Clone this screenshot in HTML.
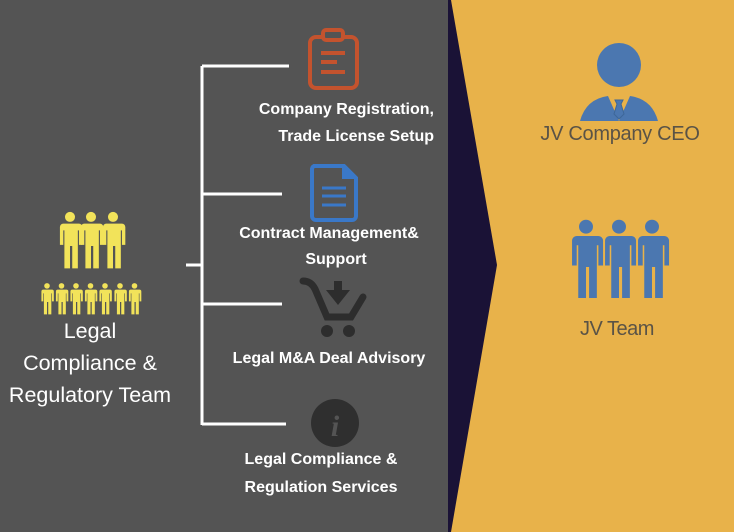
<!DOCTYPE html>
<html><head><meta charset="utf-8"><style>
html,body{margin:0;padding:0;width:734px;height:532px;overflow:hidden}
body{background:#545454;font-family:"Liberation Sans",sans-serif}
svg{display:block}
</style></head><body>
<svg width="734" height="532" viewBox="0 0 734 532" xmlns="http://www.w3.org/2000/svg">
<defs>
<g id="man">
<circle cx="0" cy="-26" r="4.5"/>
<path d="M-8,-20 h16 a3,3 0 0 1 3,3 v16 h-3 v-13 h-1 v34 h-5 v-20 h-2 v20 h-5 v-34 h-1 v13 h-3 v-16 a3,3 0 0 1 3,-3z"/>
</g>
</defs>
<rect x="0" y="0" width="734" height="532" fill="#545454"/>
<rect x="448" y="0" width="286" height="532" fill="#E8B24A"/>
<polygon points="448,0 451,0 497,265 451,532 448,532" fill="#1a1236"/>

<g stroke="#ffffff" stroke-width="3" fill="none">
<line x1="202" y1="66" x2="202" y2="425"/>
<line x1="202" y1="66" x2="289" y2="66"/>
<line x1="202" y1="194" x2="282" y2="194"/>
<line x1="202" y1="304" x2="282" y2="304"/>
<line x1="202" y1="424" x2="286" y2="424"/>
<line x1="186" y1="265" x2="202" y2="265"/>
</g>

<g stroke="#c4532e" stroke-width="4" fill="none">
<rect x="310" y="37" width="47" height="51" rx="6"/>
<rect x="323" y="30" width="20" height="10" rx="3" fill="#545454"/>
<line x1="321" y1="53" x2="345" y2="53"/>
<line x1="321" y1="62" x2="337" y2="62"/>
<line x1="321" y1="72" x2="345" y2="72"/>
</g>
<g>
<path d="M314,166 h30 l12,12 v38 a4,4 0 0 1 -4,4 h-36 a4,4 0 0 1 -4,-4 v-46 a4,4 0 0 1 2,-4z" fill="none" stroke="#3a78c8" stroke-width="4"/>
<path d="M342,164 l15,15 h-15z" fill="#3a78c8"/>
<g stroke="#3a78c8" stroke-width="3"><line x1="322" y1="188" x2="346" y2="188"/><line x1="322" y1="196" x2="346" y2="196"/><line x1="322" y1="205" x2="346" y2="205"/></g>
</g>
<g fill="#2d2d2d" stroke="#2d2d2d">
<path d="M303,281 q8,0 12,8 l12,28 h24 l12,-20" fill="none" stroke-width="7" stroke-linecap="round"/>
<rect x="334" y="281" width="8" height="10" stroke="none"/>
<polygon points="326,290 350,290 338,305" stroke="none"/>
<circle cx="327" cy="331" r="6" stroke="none"/>
<circle cx="349" cy="331" r="6" stroke="none"/>
</g>
<circle cx="335" cy="423" r="24" fill="#2f2f2f"/>
<text x="335" y="436" font-family="Liberation Serif,serif" font-style="italic" font-weight="bold" font-size="30" fill="#545454" text-anchor="middle">i</text>

<g fill="#ffffff" font-size="16" font-weight="bold" text-anchor="end">
<text x="434" y="114">Company Registration,</text>
<text x="434" y="141">Trade License Setup</text>
</g>
<g fill="#ffffff" font-size="16" font-weight="bold" text-anchor="middle">
<text x="329" y="238">Contract Management&amp;</text>
<text x="336" y="264">Support</text>
<text x="329" y="363">Legal M&amp;A Deal Advisory</text>
<text x="321" y="464">Legal Compliance &amp;</text>
<text x="321" y="492">Regulation Services</text>
</g>

<g fill="#f2e35a">
<use href="#man" transform="translate(70,246) scale(1.12)"/>
<use href="#man" transform="translate(91,246) scale(1.12)"/>
<use href="#man" transform="translate(113,246) scale(1.12)"/>
<use href="#man" transform="translate(47,302) scale(0.62)"/>
<use href="#man" transform="translate(61.5,302) scale(0.62)"/>
<use href="#man" transform="translate(76,302) scale(0.62)"/>
<use href="#man" transform="translate(90.5,302) scale(0.62)"/>
<use href="#man" transform="translate(105,302) scale(0.62)"/>
<use href="#man" transform="translate(120,302) scale(0.62)"/>
<use href="#man" transform="translate(134.5,302) scale(0.62)"/>
</g>
<g fill="#ffffff" font-size="21.5" text-anchor="middle">
<text x="90" y="338">Legal</text>
<text x="90" y="370">Compliance &amp;</text>
<text x="90" y="402">Regulatory Team</text>
</g>

<g fill="#4b77b0">
<circle cx="619" cy="65" r="22"/>
<path d="M580,121 q6,-22 28,-25 l11,25 l11,-25 q22,3 28,25z"/>
</g>
<path d="M615,100 h8 l-2,4 l3,10 l-5,5 l-5,-5 l3,-10z" fill="#4b77b0" stroke="#3d6799" stroke-width="1"/>
<g fill="#5a5346" font-size="20" text-anchor="middle">
<text x="620" y="140" letter-spacing="-0.3">JV Company CEO</text>
<text x="617" y="335" letter-spacing="-0.5">JV Team</text>
</g>
<g fill="#4b77b0">
<use href="#man" transform="translate(586,267) scale(1.55)"/>
<use href="#man" transform="translate(619,267) scale(1.55)"/>
<use href="#man" transform="translate(652,267) scale(1.55)"/>
</g>
</svg>
</body></html>
